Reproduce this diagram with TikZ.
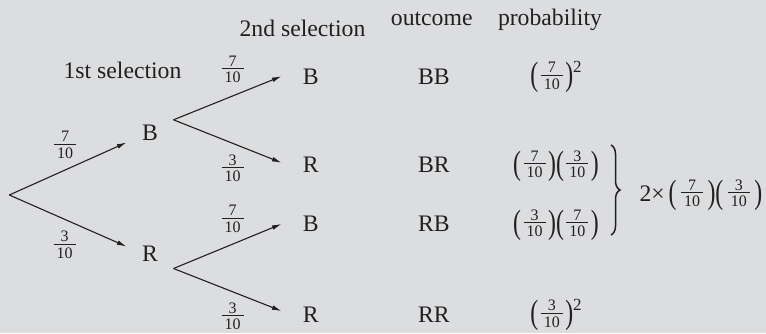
\documentclass[tikz,border=0pt]{standalone}
\usepackage{fontspec}
\setmainfont{Liberation Serif}
\usepackage{graphicx}
\usetikzlibrary{arrows.meta,decorations.pathreplacing}
\definecolor{bgc}{RGB}{220,221,223}
\definecolor{ink}{RGB}{35,31,32}
\newcommand\digs{\fontsize{16}{16}\selectfont}
\newcommand\fr[2]{{\setbox0\hbox{\digs #1}\setbox2\hbox{\digs #2}%
  \dimen0=\wd0 \ifdim\wd2>\dimen0 \dimen0=\wd2 \fi \advance\dimen0 by 6pt
  \raisebox{-5.4pt}{\vbox{\hbox to\dimen0{\hss\box0\hss}\kern2.2pt\hrule height 0.9pt\kern3pt\hbox to\dimen0{\hss\box2\hss}}}}}
\newcommand\lpar{\raisebox{-1.5pt}{\scalebox{1}[1.42]{(}}}
\newcommand\rpar{\raisebox{-1.5pt}{\scalebox{1}[1.42]{)}}}
\newcommand\pf[2]{\lpar\kern2.5pt\fr{#1}{#2}\kern2.5pt\rpar}
\newcommand\pfw[2]{\lpar\kern4.5pt\fr{#1}{#2}\kern4.5pt\rpar}
\newcommand\sqr{\raisebox{11.8pt}{\fontsize{17}{17}\selectfont 2}}
\begin{document}
\begin{tikzpicture}[x=1pt,y=1pt,
  every node/.style={inner sep=0pt, text=ink, font=\rmfamily\fontsize{23.7}{28}\selectfont},
  arr/.style={draw=ink, line width=1.1pt, -{Latex[length=9.5pt,width=4.8pt]}},
  lvl2/.style={anchor=base, inner xsep=21.2pt},
  hdr/.style={anchor=base},
  outc/.style={anchor=base west},
  prob/.style={anchor=base}]
\fill[bgc] (0,0) rectangle (766,-333);
\useasboundingbox (0,0) rectangle (766,-333);
% headers
\node[hdr] (h2) at (302.5,-36) {2nd selection};
\node[hdr] (h1) at (122.5,-78.3) {1st selection};
\node[hdr] (ho) at (431.7,-25) {outcome};
\node[hdr] (hp) at (550,-25) {probability};
% tree
\coordinate (root) at (9.3,-195);
\node[anchor=base, inner xsep=15.4pt, text height=20pt, text depth=2.3pt] (B1) at (150,-140) {B};
\node[anchor=base, inner xsep=15.4pt, text height=15pt, text depth=6.6pt] (R1) at (150,-261.7) {R};
\node[lvl2] (B2) at (310.8,-84) {B};
\node[lvl2, text height=20pt] (R2) at (310.8,-172.7) {R};
\node[lvl2] (B3) at (310.8,-231.7) {B};
\node[lvl2, text height=22.6pt] (R3) at (310.8,-322.3) {R};
\draw[arr] (root) -- (B1.south west);
\draw[arr] (root) -- (R1.north west);
\draw[arr] (B1.north east) -- (B2.west);
\draw[arr] (B1.north east) -- (R2.west);
\draw[arr] (R1.south east) -- (B3.west);
\draw[arr] (R1.south east) -- (R3.west);
% branch probabilities
\node[anchor=base] (f1) at (65,-152.8) {\fr{7}{10}};
\node[anchor=base] (f2) at (64.7,-252.8) {\fr{3}{10}};
\node[anchor=base] (f3) at (232.7,-77.5) {\fr{7}{10}};
\node[anchor=base] (f4) at (232.5,-176.5) {\fr{3}{10}};
\node[anchor=base] (f5) at (232.5,-227) {\fr{7}{10}};
\node[anchor=base] (f6) at (232.5,-324.5) {\fr{3}{10}};
% outcomes
\node[outc] (oBB) at (417.9,-84) {BB};
\node[outc] (oBR) at (417.9,-172.5) {BR};
\node[outc] (oRB) at (417.9,-231.5) {RB};
\node[outc] (oRR) at (417.9,-322) {RR};
% probabilities
\node[prob] (pBB) at (556,-84) {\pf{7}{10}\sqr};
\node[prob] (pBR) at (556,-172.5) {\pf{7}{10}\pf{3}{10}};
\node[prob] (pRB) at (556,-231.5) {\pf{3}{10}\pf{7}{10}};
\node[prob] (pRR) at (556,-322) {\pf{3}{10}\sqr};
% brace and combined
\draw[ink, line width=1.5pt, decorate, decoration={brace, amplitude=9pt}] (611,-145) -- (611,-235);
\node[anchor=base west] (comb) at (639.3,-201.5) {2×\,\pfw{7}{10}\pfw{3}{10}};
\end{tikzpicture}
\end{document}
